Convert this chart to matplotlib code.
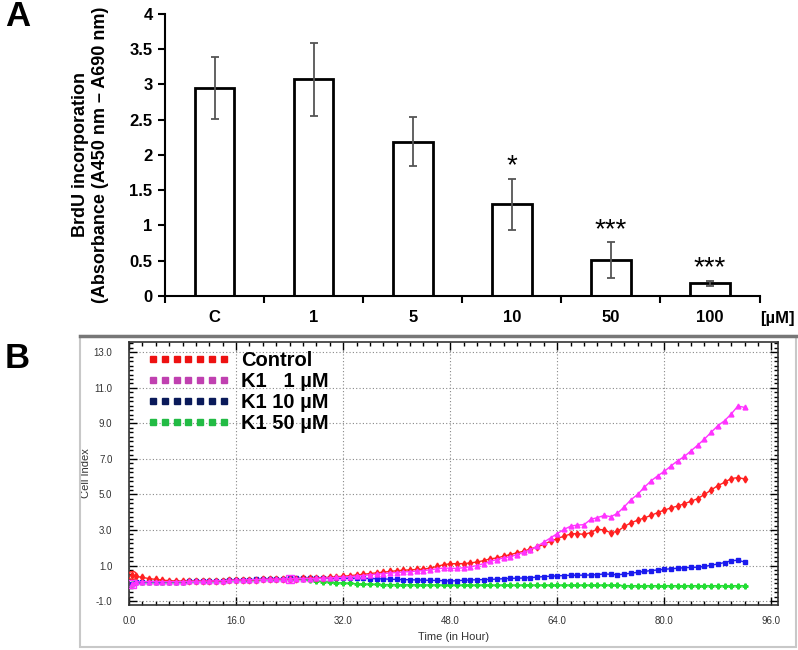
import numpy as np
import matplotlib
matplotlib.use('Agg')
import matplotlib.pyplot as plt
from matplotlib.lines import Line2D
from matplotlib.patches import Rectangle
from matplotlib.ticker import MultipleLocator, FixedLocator, FuncFormatter

plt.rcParams['font.family'] = ['Liberation Sans', 'DejaVu Sans']

# ---- panel A data ----
doses = ['C', '1', '5', '10', '50', '100']
brdu_mean = [2.95, 3.07, 2.19, 1.30, 0.51, 0.18]
brdu_err = [0.44, 0.52, 0.35, 0.36, 0.25, 0.035]
stars = ['', '', '', '*', '***', '***']

# ---- panel B data (cell index vs time) ----
hours = [0.5] + list(range(1, 93))
control = [0.48,
           0.40, 0.33, 0.27, 0.22, 0.18, 0.15, 0.13, 0.12, 0.12, 0.12,
           0.13, 0.13, 0.14, 0.15, 0.16, 0.18, 0.19, 0.20, 0.21, 0.22,
           0.23, 0.24, 0.25, 0.26, 0.27, 0.28, 0.29, 0.30, 0.32, 0.34,
           0.37, 0.40, 0.43, 0.47, 0.51, 0.55, 0.59, 0.63, 0.67, 0.71,
           0.74, 0.76, 0.78, 0.80, 0.86, 0.95, 1.05, 1.10, 1.11, 1.11,
           1.15, 1.20, 1.28, 1.38, 1.43, 1.53, 1.62, 1.72, 1.81, 1.94,
           2.05, 2.19, 2.37, 2.52, 2.65, 2.78, 2.80, 2.75, 2.86, 3.05,
           3.00, 2.85, 2.92, 3.20, 3.40, 3.55, 3.68, 3.82, 3.98, 4.12,
           4.25, 4.35, 4.48, 4.62, 4.77, 5.00, 5.25, 5.50, 5.68, 5.90,
           5.95, 5.88]
k1_1 = [-0.02,
        0.08, 0.09, 0.10, 0.10, 0.10, 0.10, 0.10, 0.10, 0.11, 0.11,
        0.12, 0.13, 0.14, 0.15, 0.16, 0.18, 0.19, 0.20, 0.21, 0.22,
        0.23, 0.24, 0.25, 0.26, 0.26, 0.27, 0.27, 0.28, 0.29, 0.31,
        0.33, 0.35, 0.38, 0.41, 0.44, 0.48, 0.51, 0.55, 0.58, 0.61,
        0.64, 0.66, 0.69, 0.72, 0.76, 0.82, 0.86, 0.85, 0.84, 0.88,
        0.93, 1.00, 1.11, 1.24, 1.34, 1.43, 1.50, 1.62, 1.75, 1.90,
        2.09, 2.32, 2.56, 2.80, 3.03, 3.22, 3.28, 3.30, 3.60, 3.70,
        3.82, 3.75, 3.94, 4.30, 4.70, 5.00, 5.40, 5.76, 6.05, 6.30,
        6.61, 6.90, 7.14, 7.46, 7.78, 8.12, 8.50, 8.87, 9.15, 9.53,
        9.98, 9.90]
k1_10 = [-0.02,
         0.08, 0.09, 0.10, 0.10, 0.10, 0.10, 0.10, 0.10, 0.11, 0.11,
         0.12, 0.13, 0.14, 0.15, 0.17, 0.19, 0.20, 0.21, 0.22, 0.23,
         0.24, 0.25, 0.26, 0.28, 0.28, 0.28, 0.29, 0.29, 0.29, 0.29,
         0.29, 0.29, 0.29, 0.28, 0.28, 0.27, 0.26, 0.25, 0.23, 0.22,
         0.21, 0.20, 0.19, 0.18, 0.17, 0.16, 0.15, 0.13, 0.15, 0.17,
         0.19, 0.20, 0.21, 0.22, 0.24, 0.26, 0.28, 0.29, 0.30, 0.32,
         0.35, 0.38, 0.40, 0.42, 0.44, 0.45, 0.46, 0.46, 0.47, 0.49,
         0.53, 0.51, 0.48, 0.52, 0.57, 0.62, 0.67, 0.72, 0.75, 0.79,
         0.82, 0.85, 0.88, 0.90, 0.91, 0.95, 1.02, 1.09, 1.17, 1.27,
         1.30, 1.20]
k1_50 = [-0.02,
         0.08, 0.09, 0.10, 0.10, 0.10, 0.10, 0.10, 0.10, 0.11, 0.11,
         0.12, 0.13, 0.14, 0.15, 0.16, 0.18, 0.19, 0.20, 0.21, 0.22,
         0.23, 0.24, 0.25, 0.26, 0.25, 0.22, 0.18, 0.14, 0.10, 0.07,
         0.04, 0.02, 0.00, -0.02, -0.04, -0.05, -0.06, -0.07, -0.07, -0.07,
         -0.08, -0.08, -0.08, -0.09, -0.09, -0.09, -0.10, -0.10, -0.10, -0.10,
         -0.10, -0.10, -0.10, -0.10, -0.10, -0.10, -0.10, -0.10, -0.10, -0.10,
         -0.10, -0.10, -0.10, -0.10, -0.10, -0.10, -0.10, -0.10, -0.10, -0.10,
         -0.10, -0.10, -0.10, -0.13, -0.13, -0.13, -0.13, -0.13, -0.13, -0.13,
         -0.13, -0.13, -0.13, -0.13, -0.13, -0.13, -0.13, -0.13, -0.13, -0.13,
         -0.13, -0.13]
legend_labels = ['Control', 'K1   1 \u00b5M', 'K1 10 \u00b5M', 'K1 50 \u00b5M']

fig = plt.figure(figsize=(7.98, 6.5), dpi=100)

#------------------------------------------
# Panel A : BrdU bar chart
#------------------------------------------
axA = fig.add_axes([0.2068, 0.5446, 0.745, 0.434])
x = np.arange(len(doses))
axA.bar(x, brdu_mean, width=0.4, color='white', edgecolor='black', linewidth=2, zorder=2)
axA.errorbar(x, brdu_mean, yerr=brdu_err, fmt='none', ecolor='#555555',
             elinewidth=1.3, capsize=3, capthick=1.3, zorder=3)
for xi, m, e, s in zip(x, brdu_mean, brdu_err, stars):
    if s:
        axA.text(xi, m + e + 0.08, s, ha='center', va='baseline', fontsize=20)
axA.set_xlim(-0.5, len(doses) - 0.5)
axA.set_ylim(0, 4)
axA.yaxis.set_major_locator(FixedLocator(np.arange(0, 4.01, 0.5)))
axA.yaxis.set_major_formatter(FuncFormatter(lambda v, p: '%g' % v))
axA.xaxis.set_major_locator(FixedLocator(np.arange(-0.5, len(doses), 1.0)))
axA.xaxis.set_minor_locator(FixedLocator(x))
axA.xaxis.set_major_formatter(plt.NullFormatter())
axA.set_xticklabels(doses, minor=True)
axA.tick_params(axis='x', which='major', direction='out', length=5, width=1.5)
axA.tick_params(axis='x', which='minor', length=0, pad=10, labelsize=12)
axA.tick_params(axis='y', direction='out', length=5, width=1.5, labelsize=12, pad=4)
for lab in axA.get_xticklabels(minor=True) + axA.get_yticklabels():
    lab.set_fontweight('bold')
for sp in ['top', 'right']:
    axA.spines[sp].set_visible(False)
for sp in ['left', 'bottom']:
    axA.spines[sp].set_linewidth(1.5)
axA.set_ylabel('BrdU incorporation\n(Absorbance (A450 nm \u2013 A690 nm)',
               fontsize=13, fontweight='bold', labelpad=15)
fig.text(0.953, 1 - 318 / 650, '[\u00b5M]', fontsize=12, fontweight='bold',
         ha='left', va='center')
fig.text(0.006, 1 - 16 / 650, 'A', fontsize=25, fontweight='bold', va='center')
fig.text(0.006, 1 - 358 / 650, 'B', fontsize=25, fontweight='bold', va='center')

#------------------------------------------
# Panel B : real time cell index
#------------------------------------------
fig.patches.append(Rectangle((80 / 798, 3 / 650), 716 / 798, 311 / 650,
                             transform=fig.transFigure, fill=False,
                             edgecolor='#c8c8c8', linewidth=1.5))
fig.lines.append(Line2D([80 / 798, 796 / 798], [1 - 336 / 650, 1 - 336 / 650],
                        transform=fig.transFigure, color='#777777', linewidth=2.5))

axB = fig.add_axes([0.1617, 0.0692, 0.8133, 0.4046])
axB.plot(hours, control, color='#ff2020', lw=1, marker='d', ms=3.5, zorder=4)
axB.plot(hours, k1_1, color='#ff33ff', lw=1, marker='^', ms=3.5, zorder=5)
axB.plot(hours, k1_10, color='#1a1aee', lw=1, marker='s', ms=3.5, zorder=3)
axB.plot(hours, k1_50, color='#22dd33', lw=1, marker='P', ms=3.5, zorder=2)
axB.plot(hours[0], control[0], 'o', mfc='none', mec='#ff2020', ms=6, zorder=6)
axB.plot(hours[0], k1_1[0], 's', mfc='none', mec='#ff33ff', ms=6, zorder=6)
axB.plot(hours[24], k1_1[24], 's', mfc='none', mec='#ff33ff', ms=6, zorder=6)

axB.set_xlim(0, 97)
axB.set_ylim(-1.22, 13.58)
axB.xaxis.set_major_locator(MultipleLocator(16))
axB.xaxis.set_minor_locator(MultipleLocator(2))
axB.yaxis.set_major_locator(FixedLocator(np.arange(-1, 14, 2)))
axB.yaxis.set_minor_locator(MultipleLocator(0.25))
axB.xaxis.set_major_formatter(plt.FormatStrFormatter('%.1f'))
axB.yaxis.set_major_formatter(plt.FormatStrFormatter('%.1f'))
axB.tick_params(which='both', direction='in', top=True, right=True,
                labelsize=7, labelcolor='#333333', width=1)
axB.tick_params(which='major', length=6)
axB.tick_params(which='minor', length=3)
axB.tick_params(axis='x', pad=8)
axB.tick_params(axis='y', pad=12)
axB.grid(True, which='major', color='#888888', linestyle=(0, (1, 2)), linewidth=0.8)
for sp in axB.spines.values():
    sp.set_color('#333333')
    sp.set_linewidth(1.2)
axB.set_xlabel('Time (in Hour)', fontsize=8, color='#333333', labelpad=4)
axB.set_ylabel('Cell Index', fontsize=8, color='#333333', labelpad=2)

legend_colors = ['#ee1111', '#c040b0', '#0a1a5a', '#22bb44']
handles = [Line2D([0], [0], linestyle='none', marker='s', ms=4.5, color=c)
           for c in legend_colors]
axB.legend(handles, legend_labels, loc='upper left', bbox_to_anchor=(0.014, 1.0),
           numpoints=7, handlelength=4.1, handletextpad=0.55, labelspacing=0.1,
           frameon=False, prop={'size': 14.5, 'weight': 'bold'}, borderaxespad=0.05)

fig.savefig('out.png', dpi=100)
